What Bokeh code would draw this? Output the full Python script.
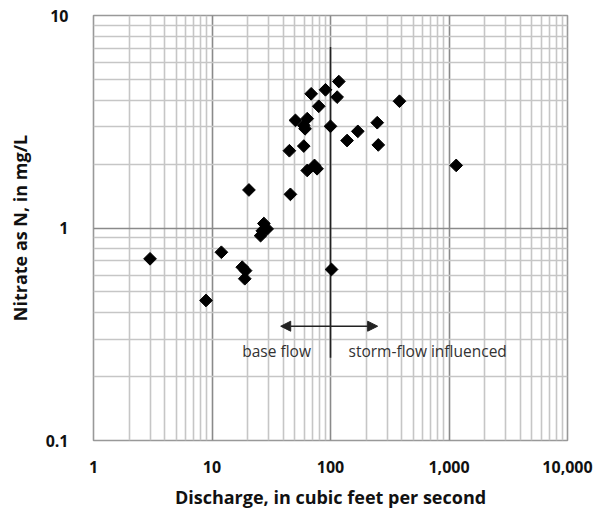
import math
from bokeh.plotting import figure
from bokeh.models import FixedTicker, Arrow, NormalHead, ColumnDataSource, Range1d
from bokeh.core.properties import value
from bokeh.embed import file_html
from bokeh.resources import INLINE

# Data
discharge = [3.0, 8.9, 12.0, 18.0, 19.2, 18.9, 20.5, 27.4, 29.2, 25.7, 26.6, 45.9,
             45.0, 59.5, 63.6, 73.3, 77.0, 50.6, 59.5, 63.6, 61.0, 68.7, 79.6, 90.7,
             117.5, 113.8, 100.0, 138.0, 170.0, 248.0, 253.0, 382.0, 1150.0, 102.0]
nitrate = [0.716, 0.456, 0.769, 0.654, 0.63, 0.577, 1.51, 1.05, 0.99, 0.92, 0.97, 1.44,
           2.31, 2.43, 1.865, 1.97, 1.90, 3.21, 3.04, 3.27, 2.93, 4.28, 3.74, 4.47,
           4.89, 4.13, 3.01, 2.58, 2.85, 3.13, 2.46, 3.95, 1.97, 0.638]

x_ticks = [1, 10, 100, 1000, 10000]
x_tick_labels = ["1", "10", "100", "1,000", "10,000"]
y_ticks = [0.1, 1, 10]
y_tick_labels = ["0.1", "1", "10"]

divider_x = 100
divider_y = [0.245, 7.1]
arrow_x = [38, 250]
arrow_y = 0.345
label_base = ("base flow", 18, 0.263)
label_storm = ("storm-flow influenced", 142, 0.263)

FONT = "Open Sans"

p = figure(width=596, height=512, x_axis_type="log", y_axis_type="log",
           x_range=Range1d(1, 10000), y_range=Range1d(0.1, 10),
           output_backend="svg", toolbar_location=None,
           min_border_left=93, min_border_right=29, min_border_top=15, min_border_bottom=72)

def minors(decades):
    out = []
    for d in decades:
        for k in range(2, 10):
            out.append(k * d)
    return out

p.xaxis.ticker = FixedTicker(ticks=x_ticks, minor_ticks=minors([1, 10, 100, 1000]))
p.yaxis.ticker = FixedTicker(ticks=y_ticks, minor_ticks=minors([0.1, 1]))
p.xaxis.major_label_overrides = {t: l for t, l in zip(x_ticks, x_tick_labels)}
p.yaxis.major_label_overrides = {t: l for t, l in zip(y_ticks, y_tick_labels)}

for ax in (p.xaxis, p.yaxis):
    ax.axis_line_color = None
    ax.major_tick_line_color = None
    ax.minor_tick_line_color = None
    ax.major_label_text_font = FONT
    ax.major_label_text_font_size = "16px"
    ax.major_label_text_font_style = "bold"
    ax.major_label_text_color = "#111111"
    ax.axis_label_text_font = FONT
    ax.axis_label_text_font_size = "18px"
    ax.axis_label_text_font_style = "bold"
    ax.axis_label_text_color = "#111111"

p.xaxis.axis_label = "Discharge, in cubic feet per second"
p.yaxis.axis_label = "Nitrate as N, in mg/L"
p.xaxis.major_label_standoff = 14
p.xaxis.axis_label_standoff = 9
p.yaxis.major_label_standoff = 19
p.yaxis.axis_label_standoff = 11

for g in (p.xgrid, p.ygrid):
    g.grid_line_color = "#8a8a8a"
    g.grid_line_width = 1.6
    g.minor_grid_line_color = "#c6c6c6"
    g.minor_grid_line_width = 1.6

p.outline_line_color = "#999999"
p.outline_line_width = 1.6

p.segment(x0=[divider_x], y0=[divider_y[0]], x1=[divider_x], y1=[divider_y[1]],
          line_color="#222222", line_width=1.6)

p.add_layout(Arrow(start=NormalHead(size=10, fill_color="#222222", line_color="#222222"),
                   end=NormalHead(size=10, fill_color="#222222", line_color="#222222"),
                   x_start=arrow_x[0], y_start=arrow_y, x_end=arrow_x[1], y_end=arrow_y,
                   line_color="#222222", line_width=1.6))

for txt, tx, ty in (label_base, label_storm):
    p.text(x=[tx], y=[ty], text=[txt], text_font=value(FONT), text_font_size="15.5px",
           text_color="#333333", text_align="left", text_baseline="middle")

src = ColumnDataSource(dict(x=discharge, y=nitrate))
p.scatter("x", "y", source=src, marker="square", angle=math.pi / 4, size=9,
          fill_color="black", line_color="black", line_width=1)

open("out.html", "w").write(file_html(p, INLINE))
